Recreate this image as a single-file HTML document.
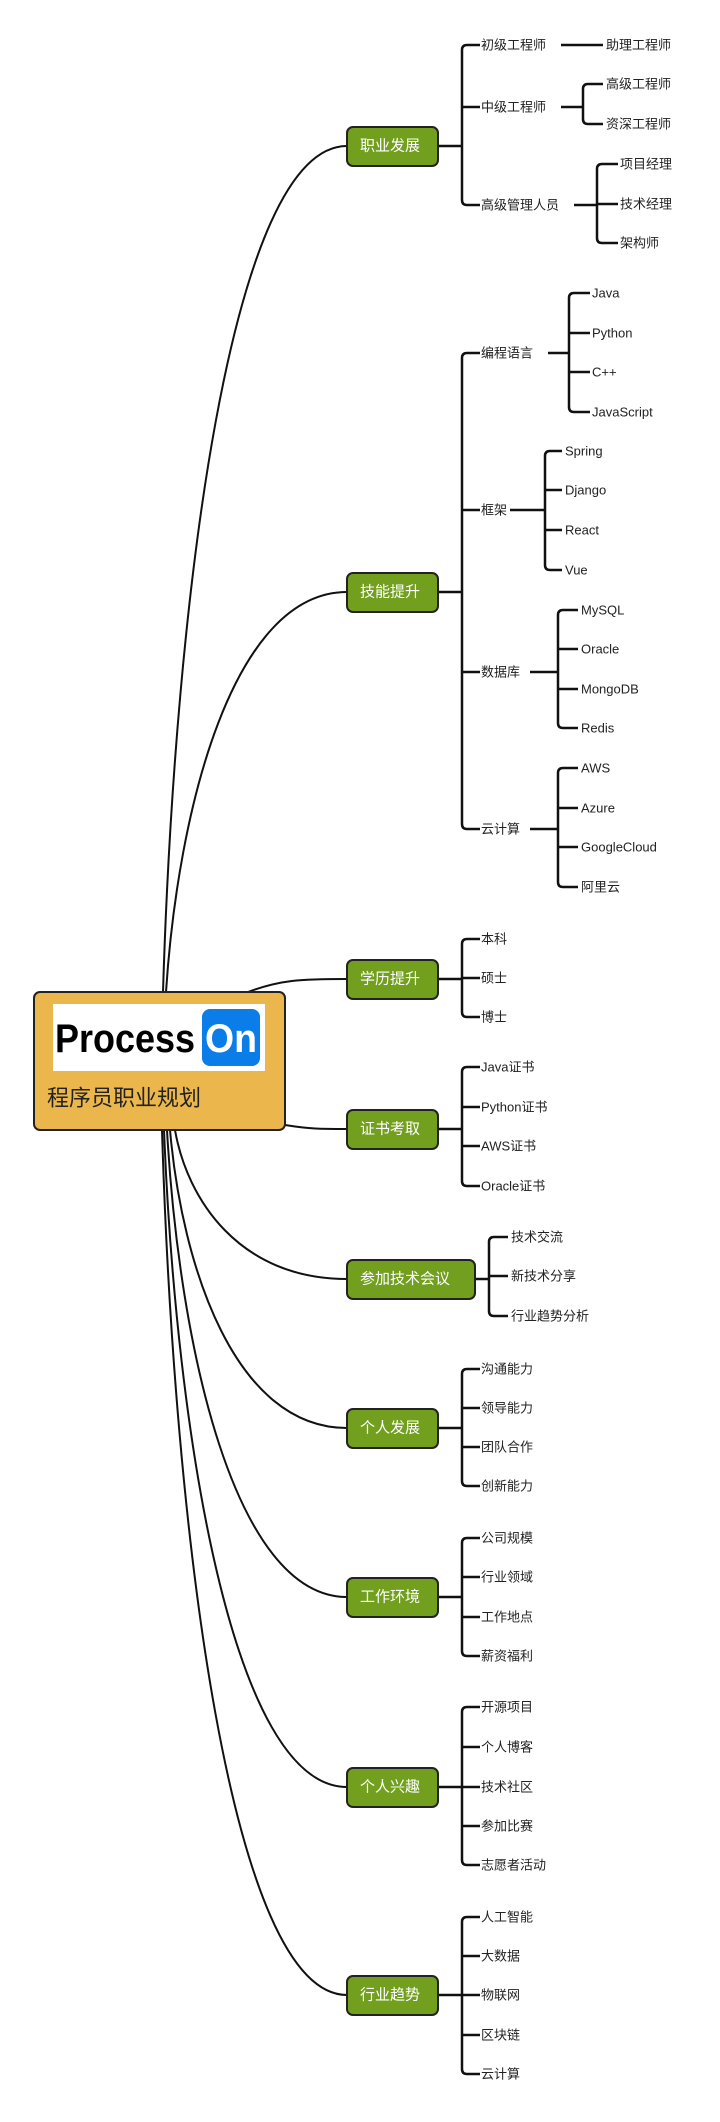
<!DOCTYPE html>
<html><head><meta charset="utf-8"><style>
html,body{margin:0;padding:0;background:#fff;}
svg{display:block;}
text{font-family:"Liberation Sans","Noto Sans CJK SC",sans-serif;}
.t{font-size:13px;fill:#222;dominant-baseline:central;}
.b{font-size:15px;fill:#fff;dominant-baseline:central;}
.l{fill:none;stroke:#111;stroke-width:2;}
.k{fill:none;stroke:#111;stroke-width:2.5;}
.g{fill:#72a01e;stroke:#222;stroke-width:2;}
</style></head><body>
<svg width="720" height="2122" viewBox="0 0 720 2122" xmlns="http://www.w3.org/2000/svg">
<g class="l">
<path d="M163 992 C175 600 230 146 347 146"/>
<path d="M166 992 C178 808 233 592 347 592"/>
<path d="M248 992 C280 980 300 979 347 979"/>
<path d="M285 1125 C310 1129 320 1129 347 1129"/>
<path d="M175 1130 C187 1199 239 1279 347 1279"/>
<path d="M170 1130 C182 1267 235 1428 347 1428"/>
<path d="M167 1130 C179 1345 234 1597 347 1597"/>
<path d="M164 1130 C176 1432 232 1787 347 1787"/>
<path d="M162 1130 C174 1528 230 1995 347 1995"/>
</g>
<g class="k">
<path d="M438 146 H462"/>
<path d="M480 45 H467 Q462 45 462 50 V200 Q462 205 467 205 H480"/>
<path d="M462 107 H480"/>
<path d="M561 45 H603"/>
<path d="M561 107 H583"/>
<path d="M603 84 H588 Q583 84 583 89 V119 Q583 124 588 124 H603"/>
<path d="M574 205 H597"/>
<path d="M618 164 H602 Q597 164 597 169 V238 Q597 243 602 243 H618"/>
<path d="M597 204 H618"/>
<path d="M438 592 H462"/>
<path d="M480 353 H467 Q462 353 462 358 V824 Q462 829 467 829 H480"/>
<path d="M462 510 H480"/><path d="M462 672 H480"/>
<path d="M548 353 H569"/>
<path d="M590 293 H574 Q569 293 569 298 V407 Q569 412 574 412 H590"/>
<path d="M569 333 H590"/><path d="M569 372 H590"/>
<path d="M510 510 H545"/>
<path d="M562 451 H550 Q545 451 545 456 V565 Q545 570 550 570 H562"/>
<path d="M545 490 H562"/><path d="M545 530 H562"/>
<path d="M530 672 H558"/>
<path d="M578 610 H563 Q558 610 558 615 V723 Q558 728 563 728 H578"/>
<path d="M558 649 H578"/><path d="M558 689 H578"/>
<path d="M530 829 H558"/>
<path d="M578 768 H563 Q558 768 558 773 V882 Q558 887 563 887 H578"/>
<path d="M558 808 H578"/><path d="M558 847 H578"/>
<path d="M438 979 H462"/>
<path d="M480 939 H467 Q462 939 462 944 V1012 Q462 1017 467 1017 H480"/>
<path d="M462 978 H480"/>
<path d="M438 1129 H462"/>
<path d="M480 1067 H467 Q462 1067 462 1072 V1181 Q462 1186 467 1186 H480"/>
<path d="M462 1107 H480"/><path d="M462 1146 H480"/>
<path d="M475 1279 H489"/>
<path d="M508 1237 H494 Q489 1237 489 1242 V1311 Q489 1316 494 1316 H508"/>
<path d="M489 1276 H508"/>
<path d="M438 1428 H462"/>
<path d="M480 1369 H467 Q462 1369 462 1374 V1481 Q462 1486 467 1486 H480"/>
<path d="M462 1408 H480"/><path d="M462 1447 H480"/>
<path d="M438 1597 H462"/>
<path d="M480 1538 H467 Q462 1538 462 1543 V1651 Q462 1656 467 1656 H480"/>
<path d="M462 1577 H480"/><path d="M462 1617 H480"/>
<path d="M438 1787 H480"/>
<path d="M480 1707 H467 Q462 1707 462 1712 V1860 Q462 1865 467 1865 H480"/>
<path d="M462 1747 H480"/><path d="M462 1826 H480"/>
<path d="M438 1995 H480"/>
<path d="M480 1917 H467 Q462 1917 462 1922 V2069 Q462 2074 467 2074 H480"/>
<path d="M462 1956 H480"/><path d="M462 2035 H480"/>
</g>
<rect x="34" y="992" width="251" height="138" rx="6" fill="#ebb64b" stroke="#222" stroke-width="2"/>
<rect x="53" y="1004" width="212" height="67" fill="#fff"/>
<rect x="202" y="1009" width="58" height="57" rx="8" fill="#0a7de8"/>
<text x="55" y="1052" font-size="40" font-weight="bold" fill="#000" textLength="140" lengthAdjust="spacingAndGlyphs">Process</text>
<text x="205" y="1052" font-size="40" font-weight="bold" fill="#fff" textLength="52" lengthAdjust="spacingAndGlyphs">On</text>
<text x="47" y="1098" font-size="22" fill="#222" dominant-baseline="central">程序员职业规划</text>
<rect class="g" x="347" y="127" width="91" height="39" rx="6"/><text class="b" x="360" y="146">职业发展</text>
<rect class="g" x="347" y="573" width="91" height="39" rx="6"/><text class="b" x="360" y="592">技能提升</text>
<rect class="g" x="347" y="960" width="91" height="39" rx="6"/><text class="b" x="360" y="979">学历提升</text>
<rect class="g" x="347" y="1110" width="91" height="39" rx="6"/><text class="b" x="360" y="1129">证书考取</text>
<rect class="g" x="347" y="1260" width="128" height="39" rx="6"/><text class="b" x="360" y="1279">参加技术会议</text>
<rect class="g" x="347" y="1409" width="91" height="39" rx="6"/><text class="b" x="360" y="1428">个人发展</text>
<rect class="g" x="347" y="1578" width="91" height="39" rx="6"/><text class="b" x="360" y="1597">工作环境</text>
<rect class="g" x="347" y="1768" width="91" height="39" rx="6"/><text class="b" x="360" y="1787">个人兴趣</text>
<rect class="g" x="347" y="1976" width="91" height="39" rx="6"/><text class="b" x="360" y="1995">行业趋势</text>
<g class="t">
<text x="481" y="45">初级工程师</text><text x="481" y="107">中级工程师</text><text x="481" y="205">高级管理人员</text>
<text x="606" y="45">助理工程师</text><text x="606" y="84">高级工程师</text><text x="606" y="124">资深工程师</text>
<text x="620" y="164">项目经理</text><text x="620" y="204">技术经理</text><text x="620" y="243">架构师</text>
<text x="481" y="353">编程语言</text><text x="481" y="510">框架</text><text x="481" y="672">数据库</text><text x="481" y="829">云计算</text>
<text x="592" y="293">Java</text><text x="592" y="333">Python</text><text x="592" y="372">C++</text><text x="592" y="412">JavaScript</text>
<text x="565" y="451">Spring</text><text x="565" y="490">Django</text><text x="565" y="530">React</text><text x="565" y="570">Vue</text>
<text x="581" y="610">MySQL</text><text x="581" y="649">Oracle</text><text x="581" y="689">MongoDB</text><text x="581" y="728">Redis</text>
<text x="581" y="768">AWS</text><text x="581" y="808">Azure</text><text x="581" y="847">GoogleCloud</text><text x="581" y="887">阿里云</text>
<text x="481" y="939">本科</text><text x="481" y="978">硕士</text><text x="481" y="1017">博士</text>
<text x="481" y="1067">Java证书</text><text x="481" y="1107">Python证书</text><text x="481" y="1146">AWS证书</text><text x="481" y="1186">Oracle证书</text>
<text x="511" y="1237">技术交流</text><text x="511" y="1276">新技术分享</text><text x="511" y="1316">行业趋势分析</text>
<text x="481" y="1369">沟通能力</text><text x="481" y="1408">领导能力</text><text x="481" y="1447">团队合作</text><text x="481" y="1486">创新能力</text>
<text x="481" y="1538">公司规模</text><text x="481" y="1577">行业领域</text><text x="481" y="1617">工作地点</text><text x="481" y="1656">薪资福利</text>
<text x="481" y="1707">开源项目</text><text x="481" y="1747">个人博客</text><text x="481" y="1787">技术社区</text><text x="481" y="1826">参加比赛</text><text x="481" y="1865">志愿者活动</text>
<text x="481" y="1917">人工智能</text><text x="481" y="1956">大数据</text><text x="481" y="1995">物联网</text><text x="481" y="2035">区块链</text><text x="481" y="2074">云计算</text>
</g>
</svg>
</body></html>
